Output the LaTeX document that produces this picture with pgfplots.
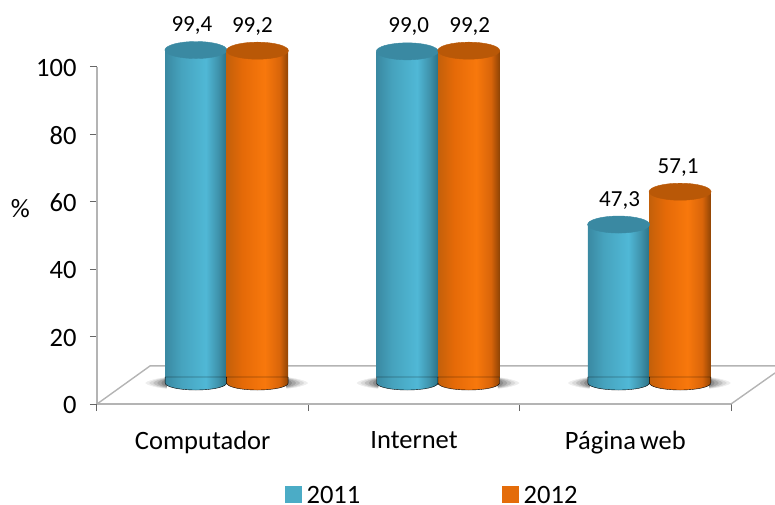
\documentclass[border=0pt]{standalone}
\usepackage{fontspec}
\setmainfont{Carlito}
\usepackage{pgfplots}
\pgfplotsset{compat=1.18}
\usepackage{pgfplotstable}
\definecolor{axisgray}{HTML}{B4B4B4}
\definecolor{leg1}{HTML}{4BACC6}
\definecolor{leg2}{HTML}{E46C0A}
\definecolor{B0}{HTML}{3A89A2}
\definecolor{B1}{HTML}{2C7286}
\definecolor{B2}{HTML}{46A3BE}
\definecolor{B3}{HTML}{50B8D6}
\definecolor{B4}{HTML}{3F93AC}
\definecolor{O0}{HTML}{C4600A}
\definecolor{O1}{HTML}{B95807}
\definecolor{O2}{HTML}{E56A08}
\definecolor{O3}{HTML}{F8780C}
\definecolor{O4}{HTML}{D9650A}
\definecolor{O5}{HTML}{8F4405}
\pgfdeclarehorizontalshading{cylb}{100bp}{
  color(0bp)=(B0);color(25bp)=(B0);color(38bp)=(B2);color(58bp)=(B3);color(68bp)=(B4);color(75bp)=(B1);color(100bp)=(B1)}
\pgfdeclarehorizontalshading{cylo}{100bp}{
  color(0bp)=(O0);color(25bp)=(O0);color(38bp)=(O2);color(56bp)=(O3);color(68bp)=(O4);color(75bp)=(O5);color(100bp)=(O5)}
\pgfdeclareplotmark{capblue}{\fill[color=B0,rotate=4] (0,0) ellipse (31pt and 8.5pt);}
\pgfdeclareplotmark{capor}{\fill[color=O1,rotate=4] (0,0) ellipse (31pt and 8.5pt);}
\pgfdeclareplotmark{botblue}{\shade[shading=cylb] (-30.75pt,0pt) arc[start angle=180,end angle=360,x radius=30.75pt,y radius=7pt] -- (30.75pt,6pt) -- (-30.75pt,6pt) -- cycle;}
\pgfdeclareplotmark{botor}{\shade[shading=cylo] (-30.75pt,0pt) arc[start angle=180,end angle=360,x radius=30.75pt,y radius=7pt] -- (30.75pt,6pt) -- (-30.75pt,6pt) -- cycle;}
% soft shadow: only the two tips that stick out left and right of the pair of cylinders
\newcommand\shadowtip[3]{%
  \fill[black!#1] (-60pt,#3pt) .. controls (-60pt-#2pt*0.6,#3pt*0.8) and (-60pt-#2pt,1pt) .. (-60pt-#2pt,0pt)
     .. controls (-60pt-#2pt,-1pt) and (-60pt-#2pt*0.6,-#3pt*0.8) .. (-60pt,-#3pt) -- cycle;
  \fill[black!#1] (60pt,#3pt) .. controls (60pt+#2pt*0.6,#3pt*0.8) and (60pt+#2pt,1pt) .. (60pt+#2pt,0pt)
     .. controls (60pt+#2pt,-1pt) and (60pt+#2pt*0.6,-#3pt*0.8) .. (60pt,-#3pt) -- cycle;}
\pgfdeclareplotmark{shadow}{%
  \begin{scope}[yshift=-2pt]
  \shadowtip{7}{21}{5.5}
  \shadowtip{15}{17}{5}
  \shadowtip{25}{13}{4.5}
  \shadowtip{35}{9}{4}
  \shadowtip{45}{5}{3.5}
  \end{scope}}
\pgfplotstableread{
x y dx
0.5 99.4 -35.75
1.5 99.0 -30.25
2.5 47.3 -30.75
}\tblA
\pgfplotstableread{
x y dx
0.5 99.2 -36.75
1.5 99.2 -30.75
2.5 57.1 -33.75
}\tblB
\tikzset{txt/.style={font=\fontsize{23}{27}\selectfont},
  big/.style={font=\fontsize{26.5}{30}\selectfont}}
\begin{document}
\begin{tikzpicture}[x=1pt,y=1pt]
\path[use as bounding box] (0,0) rectangle (775,504);
% frame axis
\begin{axis}[
  at={(97pt,100pt)},anchor=south west,
  scale only axis,width=634pt,height=337pt,
  xmin=0,xmax=3,ymin=0,ymax=100,
  clip=false,
  axis y line=left,axis x line=bottom,
  axis line style={-,axisgray,line width=1.4pt},
  xtick={0,1,2,3},
  x tick label as interval=true,
  xticklabels={Computador,Internet,Página\hspace{0.15em}web},
  ytick={0,20,40,60,80,100},
  tick style={color=black!60,line width=1pt},
  major tick length=7pt,
  tick align=outside,
  /pgf/number format/assume math mode=true,
  tick label style={big},
  xticklabel style={yshift=-17pt},
  yticklabel style={xshift=-10pt,yshift=-1pt},
  ylabel={\%},
  ylabel style={big,rotate=-90,at={(axis description cs:-0.121,0.58)},anchor=center},
]
\addplot[axisgray,line width=1.4pt] coordinates {(0,0) (0.251,11.3) (3.208,11.3)};
\addplot[axisgray,line width=1.4pt] coordinates {(3,0) (3.208,9.2)};
\end{axis}
% bars axis, shifted back on the floor
\begin{axis}[
  at={(121pt,121pt)},anchor=south west,
  scale only axis,width=634pt,height=337pt,
  xmin=0,xmax=3,ymin=0,ymax=100.6,
  clip=false,hide axis,
  ybar,bar width=61.5pt,
  legend style={draw=none,fill=none,at={(164pt,-111.5pt)},anchor=west,font=\fontsize{26.5}{30}\selectfont,
    /tikz/every even column/.style={column sep=142pt},
    /tikz/every odd column/.style={column sep=5pt},inner sep=0pt,
    nodes={text depth=0pt,inner sep=0pt}},
  legend columns=2,
  legend cell align=left,
  legend image code/.code={\fill[#1] (0pt,-8pt) rectangle (16pt,8pt);},
]
\addlegendimage{leg1}
\addlegendimage{leg2}
% floor shadows
\addplot[forget plot,only marks,mark=shadow] coordinates {(0.5,0) (1.5,0) (2.5,0)};
% cylinders, one plot per bar so that each has its own shading
\addplot[forget plot,draw=none,shade,shading=cylb,bar shift=-30.75pt] coordinates {(0.5,99.4)};
\addplot[forget plot,draw=none,shade,shading=cylb,bar shift=-30.75pt] coordinates {(1.5,99.0)};
\addplot[forget plot,draw=none,shade,shading=cylb,bar shift=-30.75pt] coordinates {(2.5,47.3)};
\addplot[forget plot,draw=none,shade,shading=cylo,bar shift=30.75pt] coordinates {(0.5,99.2)};
\addplot[forget plot,draw=none,shade,shading=cylo,bar shift=30.75pt] coordinates {(1.5,99.2)};
\addplot[forget plot,draw=none,shade,shading=cylo,bar shift=30.75pt] coordinates {(2.5,57.1)};
% rounded bases
\addplot[forget plot,only marks,mark=botblue,xshift=-30.75pt] coordinates {(0.5,0) (1.5,0) (2.5,0)};
\addplot[forget plot,only marks,mark=botor,xshift=30.75pt] coordinates {(0.5,0) (1.5,0) (2.5,0)};
% caps and values
\addplot[forget plot,only marks,mark=capblue,xshift=-30.75pt,
  visualization depends on={\thisrow{dx}\as\dx},
  nodes near coords,
  nodes near coords style={txt,text=black,anchor=center,yshift=24.5pt,xshift=\dx pt,
   /pgf/number format/.cd,use comma,fixed,fixed zerofill,precision=1,assume math mode=true}]
  table[x=x,y=y] {\tblA};
\addplot[forget plot,only marks,mark=capor,xshift=30.75pt,
  visualization depends on={\thisrow{dx}\as\dx},
  nodes near coords,
  nodes near coords style={txt,text=black,anchor=center,yshift=24.5pt,xshift=\dx pt,
   /pgf/number format/.cd,use comma,fixed,fixed zerofill,precision=1,assume math mode=true}]
  table[x=x,y=y] {\tblB};
\legend{2011,2012}
\end{axis}
\end{tikzpicture}
\end{document}
